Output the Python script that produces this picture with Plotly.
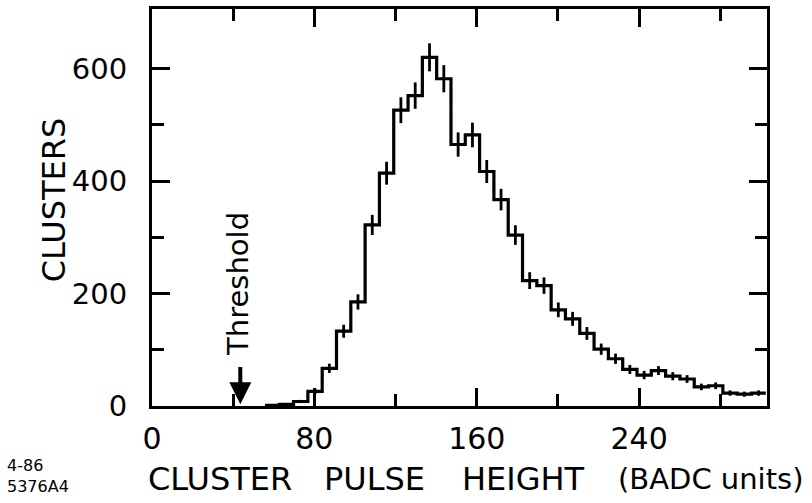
import numpy as np
import plotly.graph_objects as go

# ---- data ----
bin_start = 55.65      # lower edge of first bin (BADC units)
bin_width = 7.05       # bin width (BADC units)
counts = [1, 3, 8, 26, 67, 133, 185, 322, 414, 526, 552, 620, 582, 465, 482,
          417, 367, 304, 223, 214, 171, 155, 129, 101, 84, 65, 55, 63, 53, 48,
          34, 36, 23, 21, 23]
x_tickvals = [0, 80, 160, 240]
x_minor = [40, 120, 200, 280]
y_tickvals = [0, 200, 400, 600]
y_minor = [100, 300, 500]
threshold_x = 43.5

edges = bin_start + bin_width * np.arange(len(counts) + 1)
centers = edges[:-1] + bin_width / 2
errors = np.sqrt(np.array(counts, dtype=float))

FONT = "DejaVu Sans"
L, R, T, B = 152, 767, 6, 406.5
W, H = 812, 503


def px(xp):
    return (xp - L) / (R - L)


def py(yp):
    return (B - yp) / (B - T)


def f(size):
    return dict(family=FONT, size=size, color="black")


fig = go.Figure()
fig.add_trace(go.Scatter(
    x=edges, y=counts + [counts[-1]], mode="lines",
    line=dict(shape="hv", color="black", width=3.2), hoverinfo="skip"))
fig.add_trace(go.Scatter(
    x=centers, y=counts, mode="markers",
    marker=dict(size=1, color="black", opacity=0),
    error_y=dict(type="data", array=errors, visible=True, color="black",
                 thickness=2.8, width=0)))

axis_common = dict(
    showline=True, linewidth=3, linecolor="black", mirror="ticks",
    ticks="inside", ticklen=18, tickwidth=2.5, tickcolor="black",
    showgrid=False, zeroline=False,
)

fig.update_xaxes(range=[0, 303], tickvals=x_tickvals, tickfont=f(30),
                 minor=dict(tickvals=x_minor, ticks="inside", ticklen=12,
                            tickwidth=2.5, tickcolor="black", showgrid=False),
                 ticklabelstandoff=4, **axis_common)
fig.update_yaxes(range=[0, 706], tickvals=y_tickvals, tickfont=f(29),
                 minor=dict(tickvals=y_minor, ticks="inside", ticklen=12,
                            tickwidth=2.5, tickcolor="black", showgrid=False),
                 ticklabelstandoff=16, **axis_common)

ann = []
# threshold arrow
ann.append(dict(x=threshold_x, y=3, ax=threshold_x, ay=72, xref="x", yref="y",
                axref="x", ayref="y", text="", showarrow=True, arrowhead=2,
                arrowsize=1.1, arrowwidth=4, arrowcolor="black"))
ann.append(dict(x=42.6, y=218, xref="x", yref="y", text="Threshold",
                textangle=-90, showarrow=False, font=f(29)))
ann.append(dict(x=px(33), y=py(199), xref="paper", yref="paper",
                text="CLUSTERS", textangle=-90, showarrow=False, font=f(32)))
for txt, xl, sz in [("CLUSTER", 146, 32), ("PULSE", 322, 32),
                    ("HEIGHT", 460, 32), ("(BADC units)", 616, 29)]:
    ann.append(dict(x=px(xl), y=py(480), xref="paper", yref="paper",
                    xanchor="left", yanchor="middle", text=txt,
                    showarrow=False, font=f(sz)))
ann.append(dict(x=px(5), y=py(467), xref="paper", yref="paper",
                xanchor="left", yanchor="middle", text="4-86",
                showarrow=False, font=f(16)))
ann.append(dict(x=px(5), y=py(488), xref="paper", yref="paper",
                xanchor="left", yanchor="middle", text="5376A4",
                showarrow=False, font=f(16)))

fig.update_layout(
    width=W, height=H, margin=dict(l=L, r=W - R, t=T, b=H - B),
    paper_bgcolor="white", plot_bgcolor="white", showlegend=False,
    annotations=ann,
)

fig.write_html("out.html")
